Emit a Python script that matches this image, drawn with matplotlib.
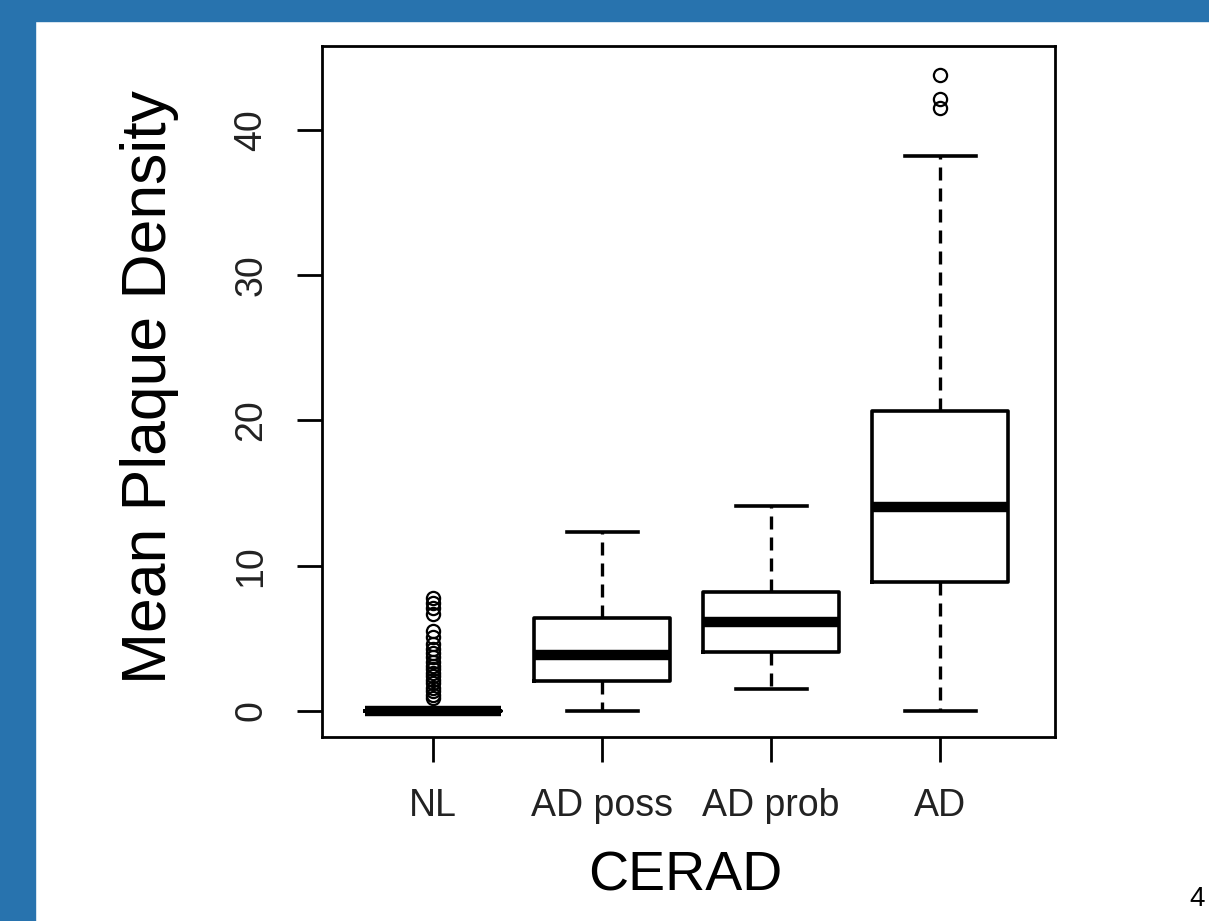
import numpy as np
import matplotlib
matplotlib.use("Agg")
import matplotlib.pyplot as plt
from matplotlib.patches import Rectangle

plt.rcParams['font.family'] = ['Liberation Sans', 'DejaVu Sans']

# values
groups = ["NL", "AD poss", "AD prob", "AD"]
medians = [0.0, 3.86, 6.1, 14.04]
q1 = [0.0, 2.05, 4.04, 8.88]
q3 = [0.0, 6.38, 8.21, 20.65]
whis_lo = [0.0, 0.0, 1.51, 0.0]
whis_hi = [0.0, 12.33, 14.13, 38.2]
fliers = [
    [7.8, 7.45, 7.1, 6.7, 5.5, 5.1, 4.6, 4.3, 4.0, 3.7, 3.4, 3.1, 2.9,
     2.6, 2.4, 2.1, 1.9, 1.6, 1.4, 1.1, 0.9],
    [],
    [],
    [43.8, 42.1, 41.5],
]

BLUE = "#2873AE"

stats = []
for i, g in enumerate(groups):
    stats.append({"label": g, "med": medians[i], "q1": q1[i], "q3": q3[i],
                  "whislo": whis_lo[i], "whishi": whis_hi[i],
                  "fliers": np.array(fliers[i])})

fig = plt.figure(figsize=(12.09, 9.21), dpi=100)
fig.patches.append(Rectangle((0, 0.9772), 1, 0.0228, transform=fig.transFigure,
                             color=BLUE, zorder=0))
fig.patches.append(Rectangle((0, 0), 0.029, 1, transform=fig.transFigure,
                             color=BLUE, zorder=0))

ax = fig.add_axes([0.2663, 0.1998, 0.6063, 0.7503])

ax.bxp(stats, positions=[1, 2, 3, 4], widths=0.8, capwidths=0.42,
       patch_artist=False,
       boxprops=dict(color="black", linewidth=2.6),
       medianprops=dict(color="black", linewidth=7.5, solid_capstyle="butt"),
       whiskerprops=dict(color="black", linewidth=2.4, linestyle=(0, (3.9, 2.4))),
       capprops=dict(color="black", linewidth=2.6),
       flierprops=dict(marker="o", markerfacecolor="none", markeredgecolor="black",
                       markersize=9.5, markeredgewidth=1.6))

ax.set_xlim(0.343, 4.68)
ax.set_ylim(-1.79, 45.78)
ax.set_yticks([0, 10, 20, 30, 40])
ax.set_xticks([1, 2, 3, 4])
ax.set_xticklabels(groups)

for s in ax.spines.values():
    s.set_linewidth(2.0)
ax.tick_params(axis="both", length=18, width=2.0, labelsize=27, colors="black",
               labelcolor="#222222")
ax.tick_params(axis="x", pad=19)
ax.tick_params(axis="y", pad=20)
for t in ax.get_yticklabels():
    t.set_rotation(90)
    t.set_va("center")

fig.text(0.124, 0.58, "Mean Plaque Density", rotation=90, fontsize=45,
         ha="center", va="center")
fig.text(0.567, 0.048, "CERAD", fontsize=40, ha="center", va="center")
# slide number in the corner
fig.text(0.997, 0.01, "4", fontsize=20, ha="right", va="bottom")

fig.savefig("out.png", dpi=100, facecolor="white")
